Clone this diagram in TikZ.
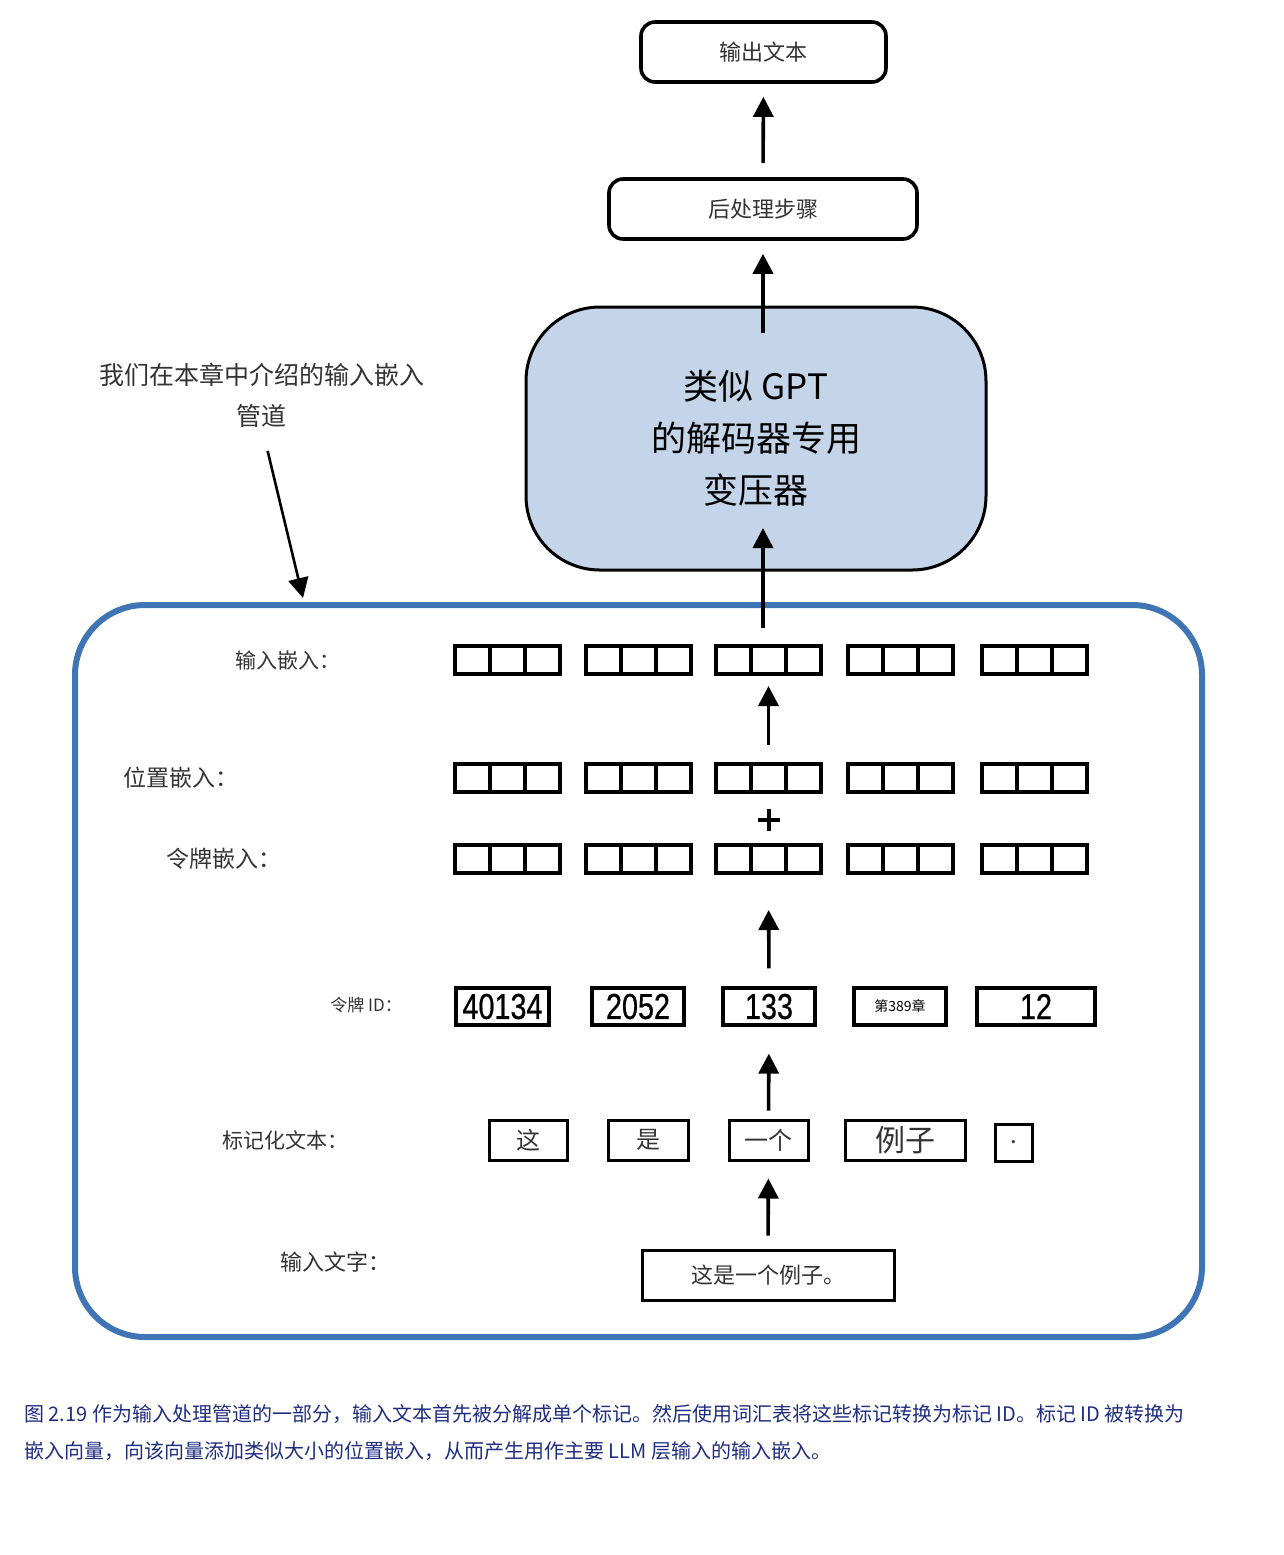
\documentclass[tikz,border=0pt]{standalone}
\usepackage{fontspec}
\usepackage{tikz}
\setmainfont{Noto Sans CJK SC}
\newfontfamily\idfont[FakeStretch=0.8,FakeBold=0.6]{Liberation Sans}
\usetikzlibrary{arrows.meta}
\definecolor{gptblue}{HTML}{C4D5E9}
\definecolor{pipeblue}{HTML}{3F74B5}
\definecolor{capblue}{HTML}{1F2D80}
\definecolor{textgray}{HTML}{333333}

\begin{document}
\begin{tikzpicture}[x=0.5pt,y=-0.5pt]
            \tikzstyle{box}=[rectangle,rounded corners=7pt,draw=black,line width=1.8pt,text=textgray,font=\fontsize{11}{13}\selectfont,inner sep=0pt,minimum height=30pt]
            \tikzstyle{cell}=[rectangle,draw=black,line width=1.8pt,minimum width=17.5pt,minimum height=14pt,inner sep=0pt,outer sep=0pt]
            \tikzstyle{idbox}=[rectangle,draw=black,line width=1.6pt,minimum height=18.5pt,inner sep=0pt,font=\idfont\fontsize{18}{18}\selectfont]
            \tikzstyle{tokbox}=[rectangle,draw=black,line width=1.5pt,minimum height=20pt,inner sep=0pt,text=textgray,font=\fontsize{12}{12}\selectfont]
            \tikzstyle{rowlabel}=[anchor=west,inner sep=0pt,text=textgray]
            \tikzstyle{arrow}=[-{Triangle[length=10pt,width=10pt]},line width=1.8pt]

                \useasboundingbox (0,0) rectangle (1284,1555);

                % top part
                \node[box,minimum width=122.5pt] (out) at (763.5,52) {输出文本};
                \node[box,minimum width=154pt] (post) at (763,209) {后处理步骤};
                \node[draw=black,line width=1.5pt,fill=gptblue,rounded corners=37pt,minimum width=230pt,minimum height=131.5pt,align=center,font=\fontsize{17.5}{26}\selectfont] (gpt) at (756,438.5) {类似 GPT\\的解码器专用\\变压器};
                \coordinate (gpt-in) at (763,528);
                \coordinate (gpt-out) at (763,333);

                \node[align=center,inner sep=0pt,text=textgray,font=\fontsize{12.5}{20.5}\selectfont] (note) at (262,395) {我们在本章中介绍的输入嵌入\\管道};
                \coordinate (note-tip) at (303,598);

                % pipeline
                \node[draw=pipeblue,line width=3pt,rounded corners=35pt,minimum width=563.5pt,minimum height=366pt] (pipe) at (638.5,971) {};

                \foreach \g/\x in {1/455,2/586,3/716,4/848,5/982}
                    \foreach \k in {1,2,3} {
                        \node[cell] (I-\g-\k) at ({\x+35*\k-17.5},660) {};
                        \node[cell] (P-\g-\k) at ({\x+35*\k-17.5},778) {};
                        \node[cell] (T-\g-\k) at ({\x+35*\k-17.5},859) {};
                    }
                \draw[line width=1.6pt] (758,820) -- (780,820) (769,809) -- (769,831);

                \foreach \n/\x/\w/\t in {1/502.5/46.5/40134, 2/638/46/2052, 3/769/46/133, 5/1036/59/12}
                    \node[idbox,minimum width=\w pt] (D-\n) at (\x,1006.5) {\t};
                \node[idbox,minimum width=46pt,font=\fontsize{7}{7}\selectfont] (D-4) at (900,1006.5) {第389章};

                \node[tokbox,minimum width=39pt] (W-1) at (528,1140) {这};
                \node[tokbox,minimum width=40pt] (W-2) at (648,1140) {是};
                \node[tokbox,minimum width=39.5pt] (W-3) at (768.5,1140) {一个};
                \node[tokbox,minimum width=60pt,font=\fontsize{15}{15}\selectfont] (W-4) at (905,1140) {例子};
                \node[tokbox,minimum width=18.5pt,minimum height=18.5pt] (W-5) at (1013.5,1142.5) {.};

                \node[box,rounded corners=0pt,minimum width=126pt,minimum height=25pt,line width=1.5pt] (src) at (768,1275) {这是一个例子。};

                % row labels
                \node[rowlabel,font=\fontsize{10.5}{10.5}\selectfont] (L-1) at (235,660) {输入嵌入：};
                \node[rowlabel,font=\fontsize{11.5}{11.5}\selectfont] (L-2) at (123,778) {位置嵌入：};
                \node[rowlabel,font=\fontsize{11.5}{11.5}\selectfont] (L-3) at (166,859) {令牌嵌入：};
                \node[rowlabel,font=\fontsize{8.5}{8.5}\selectfont] (L-4) at (330,1005) {令牌 ID：};
                \node[rowlabel,font=\fontsize{10.5}{10.5}\selectfont] (L-5) at (222,1140) {标记化文本：};
                \node[rowlabel,font=\fontsize{11}{11}\selectfont] (L-6) at (280,1262) {输入文字：};

                % arrows
                \draw[arrow,shorten <=6.5pt,shorten >=8.5pt] (src.north) -- (W-3.south);
                \draw[arrow,shorten <=4pt,shorten >=13.5pt] (W-3.north) -- (D-3.south);
                \draw[arrow,shorten <=9pt,shorten >=18.5pt] (D-3.north) -- (T-3-2.south);
                \draw[arrow,shorten <=9.5pt,shorten >=6pt] (P-3-2.north) -- (I-3-2.south);
                \draw[arrow,shorten <=9pt] (I-3-2.north -| gpt-in) -- (gpt-in);
                \draw[arrow,shorten >=6.5pt] (gpt-out) -- (post.south);
                \draw[arrow,shorten <=7pt,shorten >=6.5pt] (post.north) -- (out.south);
                \draw[arrow,line width=1.3pt,shorten <=12pt] (note.south) -- (note-tip);

                % caption
                \node[anchor=west,inner sep=0pt,text=capblue,font=\fontsize{10}{10}\selectfont] (cap-1) at (24,1414) {图 2.19 作为输入处理管道的一部分，输入文本首先被分解成单个标记。然后使用词汇表将这些标记转换为标记 ID。标记 ID 被转换为};
                \node[anchor=west,inner sep=0pt,text=capblue,font=\fontsize{10}{10}\selectfont] (cap-2) at (24,1451) {嵌入向量，向该向量添加类似大小的位置嵌入，从而产生用作主要 LLM 层输入的输入嵌入。};
        \end{tikzpicture}
\end{document}
